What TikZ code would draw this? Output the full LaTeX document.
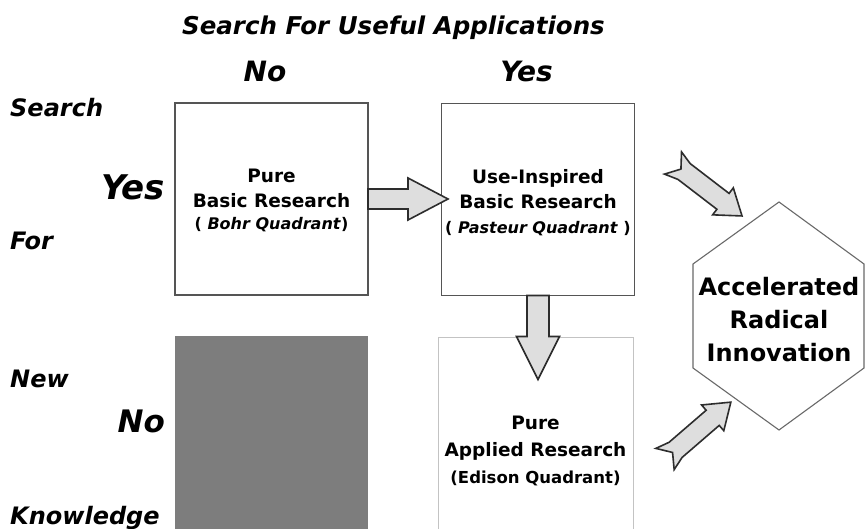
\documentclass[tikz,border=0pt]{standalone}
\usepackage{fontspec}
\setmainfont{DejaVu Sans}
\usetikzlibrary{calc}
\definecolor{boxline}{RGB}{85,85,85}
\definecolor{darkfill}{RGB}{125,125,125}
\definecolor{arrowfill}{RGB}{222,222,222}
\definecolor{arrowline}{RGB}{45,45,45}
\definecolor{lightline}{RGB}{195,195,195}
\definecolor{hexline}{RGB}{105,105,105}
\newcommand\myfs[2]{\fontsize{#1}{#2}\selectfont}
\tikzset{
  quad/.style={draw=boxline, line width=1.3pt, minimum width=193pt, minimum height=192pt, inner sep=0pt, outer sep=0pt},
  boxtext/.style={font=\bfseries\myfs{18.5}{25}, align=center, inner sep=0pt},
  headlabel/.style={font=\bfseries\itshape\myfs{28}{28}, inner sep=0pt},
  sidelabel/.style={font=\bfseries\itshape\myfs{24}{24}, inner sep=0pt, anchor=base west},
  bigside/.style={font=\bfseries\itshape\myfs{34}{34}, inner sep=0pt, anchor=base east},
  blockarrow/.style={draw=arrowline, fill=arrowfill, line width=1.6pt, line join=miter},
  notcharrow/.pic={
    \draw[blockarrow] (0,14) -- (10,0) -- (0,-14) -- (14,-10) -- (63,-10) -- (63,-17)
      -- (87,0) -- (63,17) -- (63,10) -- (14,10) -- cycle;
  }
}
\begin{document}
\begin{tikzpicture}[x=1pt,y=-1pt]
\clip (0,0) rectangle (865,529);
\fill[white] (0,0) rectangle (865,529);

% header
\node[font=\bfseries\itshape\myfs{24.5}{24.5}, inner sep=0pt, anchor=base] (title) at (393.5,35) {Search For Useful Applications};
\node[headlabel, anchor=base] (hno) at (265,82) {No};
\node[headlabel, anchor=base] (hyes) at (526.5,82) {Yes};

% side labels
\node[sidelabel] (ls) at (10,117) {Search};
\node[sidelabel] (lf) at (10,250) {For};
\node[sidelabel] (ln) at (10,388) {New};
\node[sidelabel] (lk) at (10,524) {Knowledge};
\node[bigside] (lyes) at (165,200) {Yes};
\node[bigside, font=\bfseries\itshape\myfs{31}{31}] (lno) at (165,432) {No};

% quadrants
\node[quad] (b1) at (271.5,199) {};
\node[quad] (b2) at (538,199.5) {};
\node[quad, draw=none, fill=darkfill, minimum height=194pt] (b3) at (271.5,433) {};
\node[quad, draw=lightline, line width=1pt, minimum width=195pt] (b4) at (535.5,434) {};

\node[boxtext] (t1) at (271.5,200) {Pure\\Basic Research\\[-3pt]{\myfs{16}{20}( \textit{Bohr Quadrant})}};
\node[boxtext] (t2) at (538,203) {Use-Inspired\\Basic Research\\{\myfs{16}{20}( \textit{Pasteur Quadrant} )}};
\node[boxtext, font=\bfseries\myfs{18.5}{27}] (t4) at (535.5,451) {Pure\\Applied Research\\{\myfs{16.5}{22}(Edison Quadrant)}};

% hexagon
\draw[hexline, line width=1.1pt] (779,202) -- (864,264) -- (864,368) -- (779,430) -- (693,368) -- (693,264) -- cycle;
\node[font=\bfseries\myfs{24}{33}, align=center, inner sep=0pt] (ari) at (779,320) {Accelerated\\Radical\\Innovation};

% block arrows
\draw[blockarrow] ($(b1.east)+(0,-10)$) -- ++(40,0) -- ++(0,-11) -- ($(b1.east)+(80,0)$)
  -- ($(b1.east)+(40,21)$) -- ++(0,-11) -- ($(b1.east)+(0,10)$) -- cycle;
\draw[blockarrow] ($(b2.south)+(-11,0)$) -- ++(0,41) -- ++(-10.5,0) -- ($(b2.south)+(0,84)$)
  -- ($(b2.south)+(21.5,41)$) -- ++(-10.5,0) -- ($(b2.south)+(11,0)$) -- cycle;

\coordinate (ua) at (673,163);
\coordinate (la) at (665,459);
\pic[rotate=-37.5] at (ua) {notcharrow};
\pic[rotate=40.8] at (la) {notcharrow};
\end{tikzpicture}
\end{document}
